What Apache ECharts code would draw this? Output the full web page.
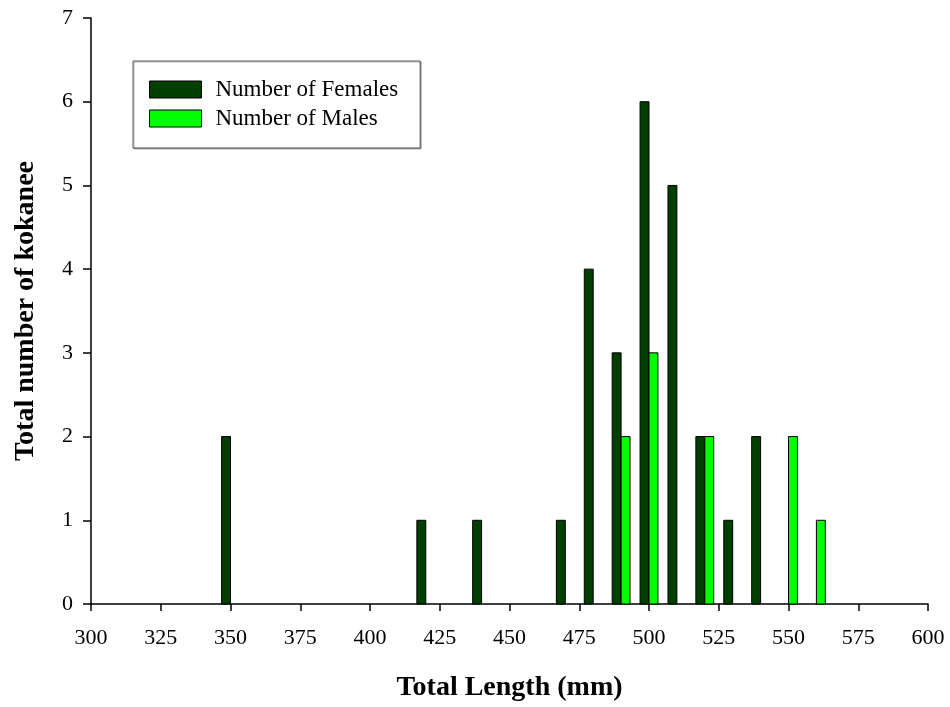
<!DOCTYPE html>
<html>
<head>
<meta charset="utf-8">
<script src="https://cdn.jsdelivr.net/npm/echarts@6/dist/echarts.min.js"></script>
<style>
  html, body { margin: 0; padding: 0; background: #fff; }
  #chart { width: 950px; height: 707px; }
</style>
</head>
<body>
<div id="chart"></div>
<script>
// length classes (mm) and counts
const femaleLengths = [350, 420, 440, 470, 480, 490, 500, 510, 520, 530, 540];
const femaleCounts = [2, 1, 1, 1, 4, 3, 6, 5, 2, 1, 2];
const maleLengths = [490, 500, 520, 550, 560];
const maleCounts = [2, 3, 2, 2, 1];
const xTicks = [300, 325, 350, 375, 400, 425, 450, 475, 500, 525, 550, 575, 600];
const yTicks = [0, 1, 2, 3, 4, 5, 6, 7];

const serif = "'Liberation Serif', 'Times New Roman', serif";
const barW = 3.2; // bar width in mm

let chart = echarts.init(document.getElementById("chart"));

// side: -1 bar left of the value, +1 bar right of the value
function barRenderer(side, color) {
  return function (params, api) {
    let x = api.value(0);
    let y = api.value(1);
    let x0 = side < 0 ? x - barW : x;
    let p1 = api.coord([x0, y]);
    let p0 = api.coord([x0 + barW, 0]);
    return {
      type: "rect",
      shape: { x: p1[0], y: p1[1], width: p0[0] - p1[0], height: p0[1] - p1[1] },
      style: { fill: color, stroke: "#000", lineWidth: 1 },
    };
  };
}

let option = {
  animation: false,
  grid: { left: 91, right: 22, top: 18, bottom: 103 },
  legend: {
    left: 133,
    top: 61,
    orient: "vertical",
    padding: [17, 22, 18, 16],
    itemGap: 6,
    itemWidth: 52,
    itemHeight: 17,
    backgroundColor: "#fff",
    borderColor: "#555",
    borderWidth: 1,
    shadowColor: "rgba(0,0,0,0.3)",
    shadowOffsetX: 1,
    shadowOffsetY: 1,
    shadowBlur: 0,
    textStyle: { fontFamily: serif, fontSize: 23, color: "#000", padding: [0, 0, 0, 9] },
    data: [
      { name: "Number of Females", icon: "rect", itemStyle: { color: "#003f00", borderColor: "#000", borderWidth: 1 } },
      { name: "Number of Males", icon: "rect", itemStyle: { color: "#00ff00", borderColor: "#000", borderWidth: 1 } },
    ],
  },
  xAxis: {
    type: "value",
    min: 300,
    max: 600,
    interval: 25,
    name: "Total Length (mm)",
    nameLocation: "middle",
    nameGap: 70,
    nameTextStyle: { fontFamily: serif, fontSize: 28, fontWeight: "bold", color: "#000" },
    axisLine: { show: true, lineStyle: { color: "#000", width: 1.5 } },
    axisTick: { show: true, length: 7, lineStyle: { color: "#000", width: 1.5 } },
    axisLabel: {
      fontFamily: serif, fontSize: 22, color: "#000", margin: 23,
      formatter: (v) => (xTicks.includes(v) ? String(v) : ""),
    },
    splitLine: { show: false },
  },
  yAxis: {
    type: "value",
    min: 0,
    max: 7,
    interval: 1,
    name: "Total number of kokanee",
    nameLocation: "middle",
    nameGap: 51,
    nameTextStyle: { fontFamily: serif, fontSize: 28, fontWeight: "bold", color: "#000" },
    axisLine: { show: true, lineStyle: { color: "#000", width: 1.5 } },
    axisTick: { show: true, length: 8, lineStyle: { color: "#000", width: 1.5 } },
    axisLabel: {
      fontFamily: serif, fontSize: 22, color: "#000", margin: 18,
      formatter: (v) => (yTicks.includes(v) ? String(v) : ""),
    },
    splitLine: { show: false },
  },
  series: [
    {
      name: "Number of Females",
      type: "custom",
      itemStyle: { color: "#003f00" },
      renderItem: barRenderer(-1, "#003f00"),
      encode: { x: 0, y: 1 },
      data: femaleLengths.map((l, i) => [l, femaleCounts[i]]),
    },
    {
      name: "Number of Males",
      type: "custom",
      itemStyle: { color: "#00ff00" },
      renderItem: barRenderer(1, "#00ff00"),
      encode: { x: 0, y: 1 },
      data: maleLengths.map((l, i) => [l, maleCounts[i]]),
    },
  ],
};
chart.setOption(option);
window.addEventListener("resize", () => {
  chart.resize();
});
</script>
</body>
</html>
